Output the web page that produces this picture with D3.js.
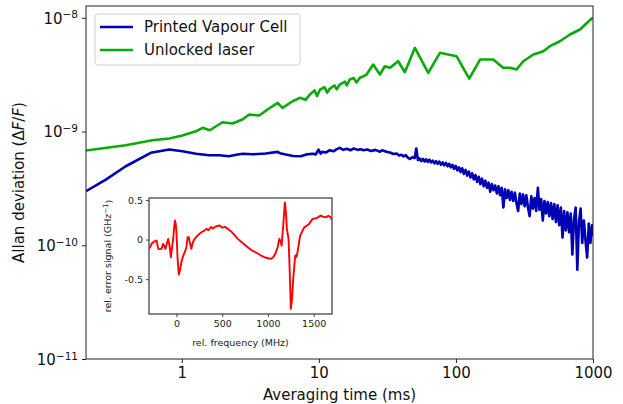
<!DOCTYPE html>
<html>
<head>
<meta charset="utf-8">
<script src="https://cdn.jsdelivr.net/npm/d3@7/dist/d3.min.js"></script>
<style>
  body { margin: 0; background: #fff; }
  svg { display: block; font-family: "DejaVu Sans", sans-serif; }
</style>
</head>
<body>
<svg id="chart" width="623" height="404"></svg>
<script>
// ---------------- DATA ----------------
const seriesNames = ["Printed Vapour Cell", "Unlocked laser"];
const xTickValues = [1, 10, 100, 1000];
const xTickLabels = ["1", "10", "100", "1000"];
const yTickValues = [1e-11, 1e-10, 1e-9, 1e-8];
const yTickExponents = ["\u221211", "\u221210", "\u22129", "\u22128"];

const blueTau = [0.2, 0.279, 0.39, 0.594, 0.81, 1.01, 1.27, 1.58, 1.87, 2.21, 2.5, 2.77, 3.28, 4.1, 5.0, 5.2, 5.74, 6.5, 7.39, 8.2, 9.0, 9.5, 9.95, 10.3, 10.6, 11.3, 12, 12.8, 13.5, 14.2, 15.1, 16, 17, 18, 19.2, 20.2, 21.1, 22.5, 24, 25.8, 27.9, 29, 30, 31.5, 33, 35, 36.9, 38.5, 40, 41.5, 43, 44.5, 46.1, 48.2,
  50, 51.4, 52.8, 54.3, 55.8, 57.4, 59, 60.6, 62.3, 64, 65.8, 67.7, 69.6, 71.5, 73.5, 75.6, 77.7, 79.9, 82.1, 84.4, 86.8, 89.2, 91.7, 94.3, 96.9, 99.6, 102.4, 105.3, 108.2, 111.2, 114.3, 117.5, 120.8, 124.2, 127.7, 131.3, 135, 138.8, 142.7, 146.7, 150.8, 155, 159.3, 163.8, 168.4, 173.1, 177.9, 182.9, 188, 193.3, 198.7, 204.3, 210, 215.9, 221.9, 228.1, 234.5, 241.1, 247.8, 254.7, 261.8, 269.1, 276.6, 284.3, 292.3, 300.5, 308.9, 317.5, 326.4, 335.5, 344.9, 354.6, 364.5, 374.7, 385.2, 396, 407.1, 418.5, 430.2, 442.2, 454.6, 467.3, 480.4, 493.9, 507.7, 521.9, 536.5, 551.5, 567, 582.9, 599.2, 616, 633.2, 650.9, 669.1, 687.8, 707.1, 726.9, 747.3, 768.2, 789.7, 811.8, 834.5, 857.9, 881.9, 906.6, 932, 958.1, 984.9, 1000];
const blueAdev = [2.985e-10, 3.78e-10, 4.95e-10, 6.5e-10, 6.95e-10, 6.71e-10, 6.37e-10, 6.19e-10, 6.19e-10, 6.06e-10, 6.25e-10, 6.37e-10, 6.31e-10, 6.41e-10, 6.62e-10, 6.45e-10, 6.28e-10, 6.1e-10, 6.06e-10, 6.3e-10, 6.37e-10, 6.3e-10, 6.95e-10, 6.4e-10, 6.62e-10, 6.55e-10, 6.85e-10, 6.7e-10, 7.0e-10, 7.19e-10, 6.9e-10, 7.05e-10, 6.85e-10, 7.1e-10, 6.9e-10, 7.0e-10, 6.85e-10, 6.95e-10, 6.75e-10, 6.9e-10, 6.65e-10, 6.85e-10, 6.75e-10, 6.6e-10, 6.55e-10, 6.35e-10, 6.4e-10, 6.15e-10, 6.25e-10, 6.05e-10, 6.2e-10, 5.9e-10, 5.75e-10, 5.95e-10,
  5.85e-10, 7.1e-10, 5.6e-10, 5.8e-10, 5.5e-10, 5.75e-10, 5.45e-10, 5.7e-10, 5.4e-10, 5.65e-10, 5.35e-10, 5.55e-10, 5.25e-10, 5.5e-10, 5.2e-10, 5.45e-10, 5.1e-10, 5.35e-10, 5.05e-10, 5.3e-10, 4.95e-10, 5.2e-10, 4.85e-10, 5.1e-10, 4.7e-10, 5.0e-10, 4.55e-10, 4.85e-10, 4.4e-10, 4.75e-10, 4.25e-10, 4.6e-10, 4.1e-10, 4.45e-10, 3.95e-10, 4.3e-10, 3.8e-10, 4.15e-10, 3.6e-10, 4.0e-10, 3.45e-10, 3.85e-10, 3.3e-10, 3.7e-10, 3.2e-10, 3.55e-10, 2.95e-10, 3.45e-10, 3.05e-10, 3.35e-10, 2.85e-10, 3.3e-10, 2.75e-10, 3.2e-10, 2.15e-10, 3.1e-10, 2.6e-10, 3.05e-10, 2.5e-10, 2.95e-10, 2.45e-10, 2.9e-10, 2.35e-10, 2.0e-10, 2.85e-10, 2.3e-10, 2.8e-10, 2.2e-10, 2.75e-10, 2.15e-10, 1.8e-10, 2.7e-10, 2.1e-10, 2.6e-10, 2.0e-10, 3.2e-10, 2.05e-10, 2.55e-10, 1.65e-10, 2.45e-10, 1.9e-10, 2.4e-10, 1.8e-10, 2.35e-10, 1.7e-10, 2.3e-10, 1.6e-10, 2.25e-10, 1.5e-10, 2.15e-10, 1.17e-10, 2.0e-10, 1.35e-10, 1.95e-10, 1.3e-10, 1.9e-10, 8.3e-11, 1.7e-10, 2.15e-10, 6.1e-11, 1.6e-10, 2.1e-10, 1.05e-10, 1.65e-10, 1.1e-10, 7.8e-11, 1.55e-10, 1.05e-10, 1.5e-10, 1.2e-10];

const greenTau = [0.2, 0.39, 0.61, 0.81, 1.01, 1.27, 1.42, 1.6, 1.98, 2.34, 2.77, 3.1, 3.67, 4.22, 5.0, 5.43, 6.43, 7.26, 8.0, 8.6, 9.3, 9.7, 10.2, 11.0, 11.5, 12.0, 13.0, 13.5, 14.2, 15.5, 16.0, 16.8, 18.0, 18.8, 19.9, 21.0, 22.3, 24.9, 27.9, 30.3, 33.0, 37.9, 42.4, 50.2, 62.8, 76.4, 101, 125, 150, 187, 221, 248, 277, 310, 367, 434, 485, 574, 679, 804, 979, 1000];
const greenAdev = [6.81e-10, 7.58e-10, 8.38e-10, 8.68e-10, 9.22e-10, 1.006e-9, 1.078e-9, 1.026e-9, 1.207e-9, 1.176e-9, 1.274e-9, 1.411e-9, 1.382e-9, 1.561e-9, 1.788e-9, 1.616e-9, 1.847e-9, 1.979e-9, 1.9e-9, 2.115e-9, 2.3e-9, 2.05e-9, 2.34e-9, 2.45e-9, 2.2e-9, 2.374e-9, 2.55e-9, 2.35e-9, 2.591e-9, 2.75e-9, 2.55e-9, 2.867e-9, 2.95e-9, 2.7e-9, 2.967e-9, 3.05e-9, 3.172e-9, 3.883e-9, 3.172e-9, 3.752e-9, 3.633e-9, 4.153e-9, 3.322e-9, 5.445e-9, 3.282e-9, 4.921e-9, 4.594e-9, 2.925e-9, 4.297e-9, 4.297e-9, 3.633e-9, 3.633e-9, 3.51e-9, 4.153e-9, 4.756e-9, 5.084e-9, 5.627e-9, 6.225e-9, 7.129e-9, 7.889e-9, 9.86e-9, 1.0e-8];

const insetFreq = [-300, -289, -270, -253, -235, -217, -199, -180, -163, -145, -120, -105, -90, -75, -61, -48, -36, -25, -17, -8, 0, 13, 26, 40, 54, 72, 91, 109, 122, 135, 150, 163, 180, 200, 230, 250, 272, 300, 326, 350, 380, 400, 417, 440, 472, 500, 530, 562, 600, 640, 671, 720, 779, 830, 880, 924, 980, 1033, 1060, 1087, 1105, 1124, 1137, 1149, 1167, 1185, 1196, 1207, 1225, 1238, 1250, 1263, 1276, 1298, 1310, 1323, 1352, 1396, 1420, 1450, 1486, 1530, 1576, 1600, 1630, 1660, 1685, 1700];
const insetSignal = [-0.12, -0.097, -0.05, -0.034, -0.02, -0.013, -0.117, -0.12, -0.117, -0.054, -0.117, -0.05, 0.009, -0.08, -0.223, -0.1, 0.009, 0.15, 0.24, 0.2, 0.092, -0.25, -0.441, -0.38, -0.286, -0.21, -0.16, -0.097, 0.029, 0.03, -0.06, -0.117, -0.03, 0.009, 0.05, 0.07, 0.092, 0.11, 0.135, 0.12, 0.16, 0.14, 0.155, 0.17, 0.177, 0.15, 0.16, 0.135, 0.1, 0.05, 0.009, -0.04, -0.097, -0.14, -0.17, -0.202, -0.23, -0.244, -0.22, -0.16, -0.1, 0.009, -0.02, -0.076, 0.177, 0.47, 0.35, 0.135, 0.009, -0.4, -0.874, -0.75, -0.496, -0.202, -0.22, -0.16, 0.05, 0.155, 0.17, 0.198, 0.261, 0.27, 0.303, 0.29, 0.281, 0.3, 0.281, 0.25];
const insetXTicks = [0, 500, 1000, 1500];
const insetXTickLabels = ["0", "500", "1000", "1500"];
const insetYTicks = [0.5, 0, -0.5];
const insetYTickLabels = ["0.5", "0", "-0.5"];

// ---------------- CHART ----------------
const svg = d3.select("#chart");
const M = { left: 86, top: 6, right: 593, bottom: 359 };

const x = d3.scaleLog().domain([0.2, 1000]).range([M.left, M.right]);
const y = d3.scaleLog().domain([1e-11, 1.27e-8]).range([M.bottom, M.top]);

svg.append("defs").append("clipPath").attr("id", "clipMain")
  .append("rect").attr("x", M.left).attr("y", M.top)
  .attr("width", M.right - M.left).attr("height", M.bottom - M.top);

const blueData = blueTau.map((t, i) => [t, blueAdev[i]]);
const greenData = greenTau.map((t, i) => [t, greenAdev[i]]);

const line = d3.line().x(d => x(d[0])).y(d => y(d[1]));

const gLines = svg.append("g").attr("clip-path", "url(#clipMain)");
gLines.append("path").datum(blueData).attr("d", line)
  .attr("fill", "none").attr("stroke", "#0000b4").attr("stroke-width", 2.6).attr("stroke-linejoin", "round");
gLines.append("path").datum(greenData).attr("d", line)
  .attr("fill", "none").attr("stroke", "#0aaa0a").attr("stroke-width", 2.6).attr("stroke-linejoin", "round");

// frame
svg.append("rect").attr("x", M.left).attr("y", M.top)
  .attr("width", M.right - M.left).attr("height", M.bottom - M.top)
  .attr("fill", "none").attr("stroke", "#222").attr("stroke-width", 1);

// x axis
const xAxis = d3.axisBottom(x).tickValues(xTickValues)
  .tickFormat((d, i) => xTickLabels[i]).tickSize(4).tickPadding(4);
const gx = svg.append("g").attr("transform", `translate(0,${M.bottom})`).call(xAxis);
gx.select(".domain").remove();
gx.selectAll("text").attr("font-size", 15).attr("fill", "#111").attr("font-family", "DejaVu Sans");
gx.selectAll("line").attr("stroke", "#222");

// y axis
const yAxis = d3.axisLeft(y).tickValues(yTickValues).tickFormat("").tickSize(4);
const gy = svg.append("g").attr("transform", `translate(${M.left},0)`).call(yAxis);
gy.select(".domain").remove();
gy.selectAll("line").attr("stroke", "#222");
gy.selectAll(".tick").each(function (d, i) {
  const t = d3.select(this).append("text")
    .attr("x", -8).attr("dy", "0.36em").attr("text-anchor", "end")
    .attr("fill", "#111").attr("font-size", 15).attr("font-family", "DejaVu Sans");
  t.append("tspan").text("10");
  t.append("tspan").attr("dy", "-0.5em").attr("font-size", 10.5).text(yTickExponents[i]);
});

// axis labels
svg.append("text").attr("x", (M.left + M.right) / 2).attr("y", 400)
  .attr("text-anchor", "middle").attr("font-size", 15).attr("fill", "#111")
  .text("Averaging time (ms)");
const yl = svg.append("text").attr("transform", `translate(24,${(M.top + M.bottom) / 2}) rotate(-90)`)
  .attr("text-anchor", "middle").attr("font-size", 15).attr("fill", "#111");
yl.append("tspan").text("Allan deviation (\u0394");
yl.append("tspan").attr("font-style", "italic").text("F");
yl.append("tspan").text("/");
yl.append("tspan").attr("font-style", "italic").text("F");
yl.append("tspan").text(")");

// legend
const lg = svg.append("g");
lg.append("rect").attr("x", 95).attr("y", 14).attr("width", 205).attr("height", 51)
  .attr("rx", 3).attr("fill", "#fff").attr("fill-opacity", 0.85)
  .attr("stroke", "#d0d0d0").attr("stroke-width", 1);
const legColors = ["#0000b4", "#0aaa0a"];
seriesNames.forEach((name, i) => {
  const yy = 27 + i * 23;
  lg.append("line").attr("x1", 100).attr("x2", 133).attr("y1", yy).attr("y2", yy)
    .attr("stroke", legColors[i]).attr("stroke-width", 2.6);
  lg.append("text").attr("x", 144).attr("y", yy).attr("dy", "0.36em")
    .attr("font-size", 15).attr("fill", "#111").text(name);
});

// ---------------- INSET ----------------
const I = { left: 149, top: 198, right: 332, bottom: 314 };
const ix = d3.scaleLinear().domain([-300, 1700]).range([I.left, I.right]);
const iy = d3.scaleLinear().domain([-0.94, 0.525]).range([I.bottom, I.top]);

svg.append("rect").attr("x", I.left).attr("y", I.top)
  .attr("width", I.right - I.left).attr("height", I.bottom - I.top).attr("fill", "#fff");

svg.append("defs").append("clipPath").attr("id", "clipInset")
  .append("rect").attr("x", I.left).attr("y", I.top)
  .attr("width", I.right - I.left).attr("height", I.bottom - I.top);

const insetData = insetFreq.map((f, i) => [f, insetSignal[i]]);
svg.append("path").datum(insetData)
  .attr("clip-path", "url(#clipInset)")
  .attr("d", d3.line().x(d => ix(d[0])).y(d => iy(d[1])))
  .attr("fill", "none").attr("stroke", "#ff0000").attr("stroke-width", 1.9).attr("stroke-linejoin", "round");

svg.append("rect").attr("x", I.left).attr("y", I.top)
  .attr("width", I.right - I.left).attr("height", I.bottom - I.top)
  .attr("fill", "none").attr("stroke", "#555").attr("stroke-width", 1.4);

const ixAxis = d3.axisBottom(ix).tickValues(insetXTicks)
  .tickFormat((d, i) => insetXTickLabels[i]).tickSize(3).tickPadding(3);
const gix = svg.append("g").attr("transform", `translate(0,${I.bottom})`).call(ixAxis);
gix.select(".domain").remove();
gix.selectAll("text").attr("font-size", 9.5).attr("fill", "#222").attr("font-family", "DejaVu Sans");
gix.selectAll("line").attr("stroke", "#444");

const iyAxis = d3.axisLeft(iy).tickValues(insetYTicks)
  .tickFormat((d, i) => insetYTickLabels[i]).tickSize(3).tickPadding(3);
const giy = svg.append("g").attr("transform", `translate(${I.left},0)`).call(iyAxis);
giy.select(".domain").remove();
giy.selectAll("text").attr("font-size", 9.5).attr("fill", "#222").attr("font-family", "DejaVu Sans");
giy.selectAll("line").attr("stroke", "#444");

svg.append("text").attr("x", (I.left + I.right) / 2).attr("y", 346)
  .attr("text-anchor", "middle").attr("font-size", 9.5).attr("fill", "#222")
  .text("rel. frequency (MHz)");
const iyl = svg.append("text").attr("transform", `translate(111,${(I.top + I.bottom) / 2}) rotate(-90)`)
  .attr("text-anchor", "middle").attr("font-size", 9.5).attr("fill", "#222");
iyl.append("tspan").text("rel. error signal (GHz");
iyl.append("tspan").attr("dy", "-0.45em").attr("font-size", 7).text("\u22121");
iyl.append("tspan").attr("dy", "0.45em").text(")");
</script>
</body>
</html>
